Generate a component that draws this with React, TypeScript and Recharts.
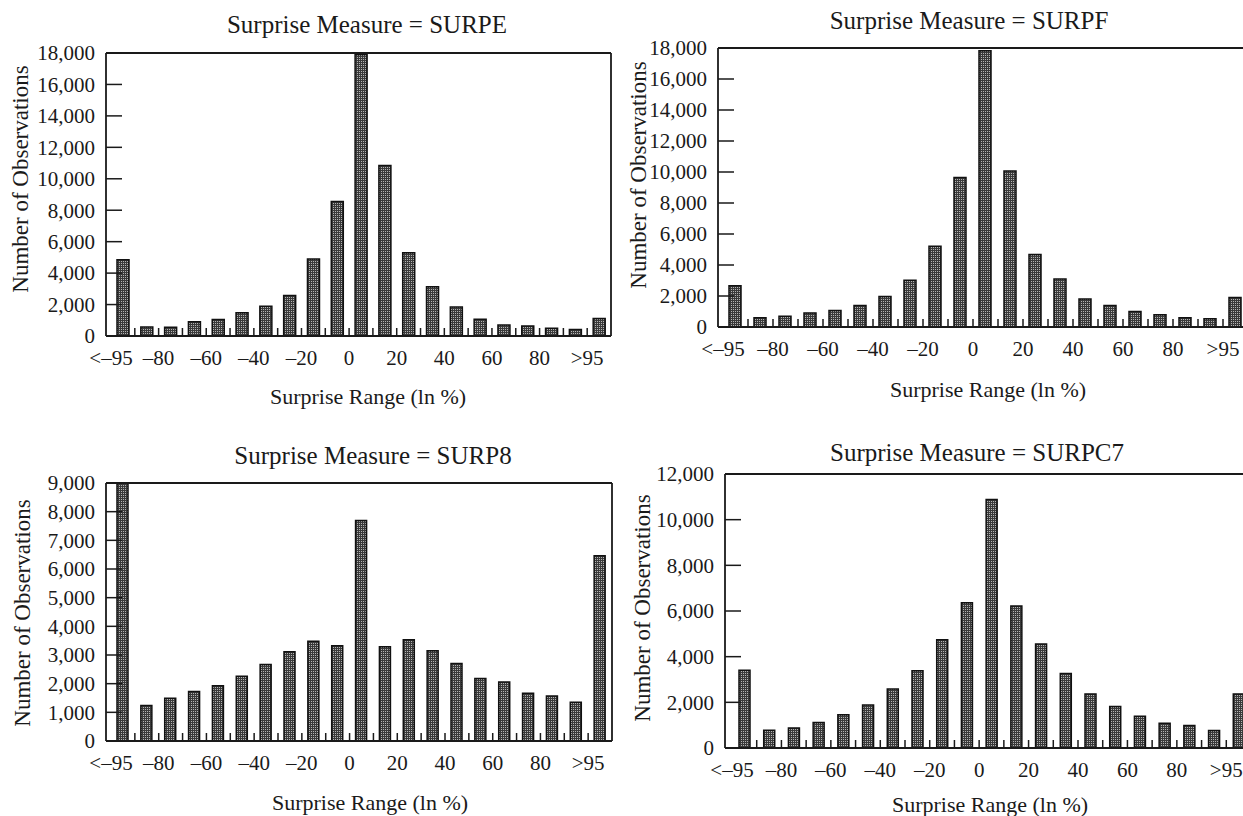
import React from 'react';
import { BarChart, Bar, XAxis, YAxis, ReferenceLine } from 'recharts';

// 21 bins, left to right
const bins = ['<–95', '–90', '–80', '–70', '–60', '–50', '–40', '–30', '–20', '–10', '0',
  '10', '20', '30', '40', '50', '60', '70', '80', '90', '>95'];

// labels sit on bin boundaries 0, 2, 4 ... 20
const xTickLabels = ['<–95', '–80', '–60', '–40', '–20', '0', '20', '40', '60', '80', '>95'];

const surpe = [4850, 570, 560, 900, 1050, 1480, 1900, 2580, 4900, 8550, 17900,
  10850, 5300, 3140, 1840, 1060, 700, 640, 490, 420, 1120];
const surpf = [2660, 600, 700, 910, 1060, 1380, 1960, 3020, 5210, 9640, 17830,
  10060, 4680, 3090, 1810, 1380, 1000, 790, 600, 530, 1910];
const surp8 = [9000, 1235, 1490, 1730, 1930, 2260, 2670, 3110, 3480, 3320, 7690,
  3290, 3530, 3150, 2700, 2180, 2060, 1670, 1570, 1350, 6460];
const surpc7 = [3400, 780, 880, 1120, 1460, 1880, 2580, 3380, 4740, 6360, 10880,
  6220, 4550, 3260, 2370, 1820, 1390, 1080, 990, 770, 2370];

const yTicks18 = [0, 2000, 4000, 6000, 8000, 10000, 12000, 14000, 16000, 18000];
const yTicks9 = [0, 1000, 2000, 3000, 4000, 5000, 6000, 7000, 8000, 9000];
const yTicks12 = [0, 2000, 4000, 6000, 8000, 10000, 12000];

const boundaries = Array.from({ length: 22 }, (_, i) => i);

const FONT = '"Liberation Serif", "Times New Roman", serif';
const INK = '#1a1a1a';

const XTick = (props: any) => {
  const { x, y, payload } = props;
  const v = payload.value;
  return (
    <g>
      {v > 0 && v < 21 && <line x1={x} x2={x} y1={y} y2={y - 8} stroke={INK} strokeWidth={1.5} />}
      {v % 2 === 0 && v <= 20 && (
        <text x={x} y={y + 22} dy="0.35em" textAnchor="middle" fontFamily={FONT} fontSize={21} fill={INK}>
          {xTickLabels[v / 2]}
        </text>
      )}
    </g>
  );
};

const YTick = (props: any) => {
  const { x, y, payload } = props;
  return (
    <g>
      <line x1={x} x2={x + 16} y1={y} y2={y} stroke={INK} strokeWidth={1.5} />
      <text x={x - 11} y={y} dy="0.35em" textAnchor="end" fontFamily={FONT} fontSize={21} fill={INK}>
        {payload.value.toLocaleString('en-US')}
      </text>
    </g>
  );
};

interface PanelProps {
  id: string;
  values: number[];
  yMax: number;
  yTicks: number[];
  left: number;
  top: number;
  width: number;
  height: number;
  plot: [number, number, number, number]; // page coords: left, top, right, bottom
  padLeft: number;
  barSize: number;
}

const Panel: React.FC<PanelProps> = ({ id, values, yMax, yTicks, left, top, width, height, plot, padLeft, barSize }) => {
  const yW = 60;
  const xH = 40;
  const [pl, pt, pr, pb] = plot;
  const margin = {
    left: pl - left - yW,
    top: pt - top,
    right: width - (pr - left),
    bottom: height - (pb - top) - xH,
  };
  const data = bins.map((b, i) => ({ bin: b, x: i + 0.5, count: values[i] }));
  return (
    <div style={{ position: 'absolute', left, top, width, height }}>
      <BarChart width={width} height={height} data={data} margin={margin}>
        <defs>
          <pattern id={id} patternUnits="userSpaceOnUse" width={2} height={2}>
            <rect width={2} height={2} fill="#3a3a3a" />
            <rect x={1} y={1} width={1} height={1} fill="#b4b4b4" />
          </pattern>
        </defs>
        <XAxis
          type="number"
          dataKey="x"
          domain={[0, 21]}
          ticks={boundaries}
          interval={0}
          height={xH}
          tickSize={0}
          tickMargin={0}
          tickLine={false}
          padding={{ left: padLeft, right: 0 }}
          axisLine={{ stroke: INK, strokeWidth: 1.8 }}
          tick={<XTick />}
        />
        <YAxis
          type="number"
          domain={[0, yMax]}
          ticks={yTicks}
          interval={0}
          width={yW}
          tickSize={0}
          tickMargin={0}
          tickLine={false}
          allowDataOverflow
          axisLine={{ stroke: INK, strokeWidth: 1.8 }}
          tick={<YTick />}
        />
        <ReferenceLine y={yMax} stroke={INK} strokeWidth={1.8} />
        <ReferenceLine x={21} stroke={INK} strokeWidth={1.8} />
        <Bar dataKey="count" barSize={barSize} fill={`url(#${id})`} stroke="#111" strokeWidth={1.5} isAnimationActive={false} />
      </BarChart>
    </div>
  );
};

const Label: React.FC<{ x: number; y: number; size: number; rotate?: boolean; children: React.ReactNode }> = ({ x, y, size, rotate, children }) => (
  <div
    style={{
      position: 'absolute',
      left: x,
      top: y,
      transform: `translate(-50%, -50%)${rotate ? ' rotate(-90deg)' : ''}`,
      whiteSpace: 'nowrap',
      fontFamily: FONT,
      fontSize: size,
      color: INK,
      lineHeight: 1,
    }}
  >
    {children}
  </div>
);

export default function App() {
  return (
    <div style={{ position: 'fixed', left: 0, top: 0, width: 1243, height: 816, overflow: 'hidden', background: '#fff' }}>
      <Panel id="pE" values={surpe} yMax={18000} yTicks={yTicks18} left={0} top={0} width={640} height={410}
        plot={[106, 53, 611, 336]} padLeft={5} barSize={12} />
      <Panel id="pF" values={surpf} yMax={18000} yTicks={yTicks18} left={620} top={0} width={640} height={410}
        plot={[718, 48, 1248, 327]} padLeft={5} barSize={12} />
      <Panel id="p8" values={surp8} yMax={9000} yTicks={yTicks9} left={0} top={410} width={640} height={406}
        plot={[106, 483, 612, 741]} padLeft={5} barSize={11} />
      <Panel id="pC7" values={surpc7} yMax={12000} yTicks={yTicks12} left={620} top={410} width={640} height={406}
        plot={[725, 474, 1251, 748]} padLeft={7} barSize={11} />

      <Label x={367} y={24} size={25}>Surprise Measure = SURPE</Label>
      <Label x={969} y={20} size={25}>Surprise Measure = SURPF</Label>
      <Label x={373} y={455} size={25}>Surprise Measure = SURP8</Label>
      <Label x={977} y={452} size={25}>Surprise Measure = SURPC7</Label>

      <Label x={20} y={179} size={23} rotate>Number of Observations</Label>
      <Label x={638} y={175} size={23} rotate>Number of Observations</Label>
      <Label x={22} y={613} size={23} rotate>Number of Observations</Label>
      <Label x={642} y={608} size={23} rotate>Number of Observations</Label>

      <Label x={368} y={397} size={22}>Surprise Range (ln %)</Label>
      <Label x={988} y={390} size={22}>Surprise Range (ln %)</Label>
      <Label x={370} y={803} size={22}>Surprise Range (ln %)</Label>
      <Label x={990} y={805} size={22}>Surprise Range (ln %)</Label>
    </div>
  );
}
